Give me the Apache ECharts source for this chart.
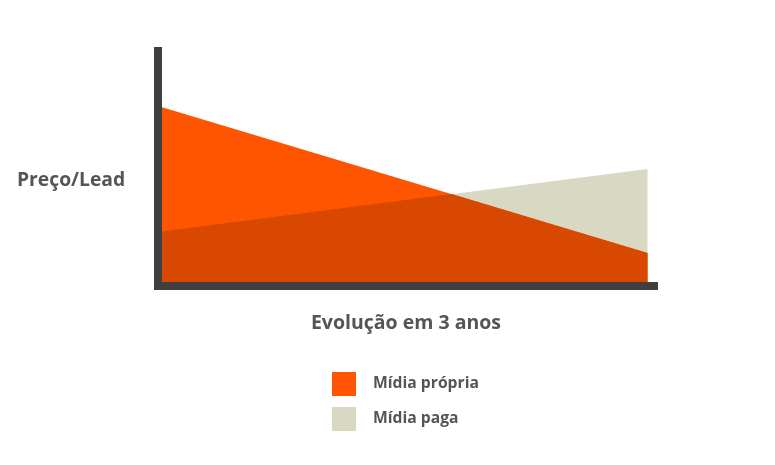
<!DOCTYPE html>
<html><head><meta charset="utf-8">
<script src="https://cdn.jsdelivr.net/npm/echarts@6/dist/echarts.min.js"></script>
<style>html,body{margin:0;padding:0;background:#fff}#c{width:775px;height:465px}</style>
</head><body><div id="c"></div>
<script>
const seriesNames = ['Mídia própria', 'Mídia paga'];
const propria = [[0, 76.6], [3, 14]];
const paga = [[0, 23], [3, 49.8]];
const overlap = [[0, 23], [1.8, 39.1], [3, 14]];
const xTitle = 'Evolução em 3 anos';
const yTitle = 'Preço/Lead';

const chart = echarts.init(document.getElementById('c'));
const font = '"Open Sans", "DejaVu Sans", sans-serif';
const axisLine = { show: true, lineStyle: { color: '#3f3f3f', width: 8, cap: 'square' } };
chart.setOption({
  animation: false,
  grid: { left: 158, right: 121, top: 51, bottom: 179 },
  xAxis: {
    type: 'value', min: 0, max: 3.04, z: 5,
    axisLine: axisLine, axisTick: { show: false }, axisLabel: { show: false }, splitLine: { show: false },
    name: xTitle, nameLocation: 'middle', nameGap: 27,
    nameTextStyle: { color: '#555557', fontSize: 19.5, fontWeight: 'bold', fontFamily: font }
  },
  yAxis: {
    type: 'value', min: 0, max: 100, z: 5,
    axisLine: axisLine, axisTick: { show: false }, axisLabel: { show: false }, splitLine: { show: false }
  },
  graphic: [{
    type: 'text', left: 17, top: 171,
    style: { text: yTitle, fill: '#555557', font: 'bold 19.3px ' + font }
  }],
  legend: {
    orient: 'vertical', left: 332, top: 372, padding: 0, itemWidth: 24, itemHeight: 24, itemGap: 11,
    icon: 'rect', data: seriesNames,
    textStyle: { color: '#555557', fontSize: 15.7, fontWeight: 'bold', fontFamily: font, padding: [0, 0, 0, 12] }
  },
  series: [
    { name: seriesNames[1], type: 'line', data: paga, symbol: 'none', lineStyle: { width: 0 },
      itemStyle: { color: '#D8D8C3' }, areaStyle: { color: '#D8D8C3', opacity: 1 } },
    { name: seriesNames[0], type: 'line', data: propria, symbol: 'none', lineStyle: { width: 0 },
      itemStyle: { color: '#FF5500' }, areaStyle: { color: '#FF5500', opacity: 1 } },
    { name: 'overlap', type: 'line', data: overlap, symbol: 'none', lineStyle: { width: 0 },
      itemStyle: { color: '#D84800' }, areaStyle: { color: '#D84800', opacity: 1 } }
  ]
});
</script></body></html>
